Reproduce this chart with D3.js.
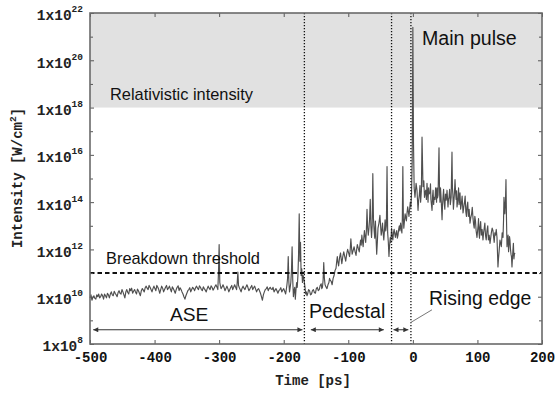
<!DOCTYPE html>
<html><head><meta charset="utf-8">
<script src="https://cdn.jsdelivr.net/npm/d3@7"></script>
<style>body{margin:0;background:#fff} svg{display:block}</style>
</head><body><svg id="c" width="557" height="394"></svg>
<script>
// ---------- data ----------
const xTicks = [-500, -400, -300, -200, -100, 0, 100, 200];
const yTickExponents = [8, 10, 12, 14, 16, 18, 20, 22];
const yMinorExponents = [9, 11, 13, 15, 17, 19, 21];
const regionBounds = [-168, -33, -3];          // ps, dotted separators
const breakdownThreshold = 1e11;               // W/cm^2
const relativisticIntensity = 1e18;            // W/cm^2
const arrowLevel = 4e8;
const regionArrows = [[-495, -171], [-158, -45], [-30, -7]];
const risingEdgeLeader = [[29.6, 2.8e9], [-4.4, 7.8e8]];

const aseTrace = [
[-500,8.9e9],[-498.5,1.2e10],[-497,7.1e9],[-495.5,9.5e9],[-494,1.1e10],[-492.5,8.5e9],[-491,7.9e9],[-489.5,1.2e10],
[-488,1.0e10],[-486.5,1.3e10],[-485,8.9e9],[-483.5,1.0e10],[-482,1.3e10],[-480.5,1.1e10],[-479,7.9e9],[-477.5,1.3e10],
[-476,1.1e10],[-474.5,9.0e9],[-473,1.4e10],[-471.5,1.2e10],[-470,8.9e9],[-468.5,1.3e10],[-467,1.6e10],[-465.5,1.2e10],
[-464,1.1e10],[-462.5,1.7e10],[-461,1.4e10],[-459.5,1.2e10],[-458,1.0e10],[-456.5,1.5e10],[-455,1.8e10],[-453.5,1.4e10],
[-452,1.3e10],[-450.5,2.0e10],[-449,1.6e10],[-447.5,1.2e10],[-446,8.9e9],[-444.5,1.6e10],[-443,2.0e10],[-441.5,1.5e10],
[-440,1.3e10],[-438.5,2.2e10],[-437,1.8e10],[-435.5,2.3e10],[-434,1.4e10],[-432.5,1.7e10],[-431,2.0e10],[-429.5,1.6e10],
[-428,1.3e10],[-426.5,2.1e10],[-425,1.8e10],[-423.5,1.4e10],[-422,1.1e10],[-420.5,1.8e10],[-419,2.2e10],[-417.5,1.9e10],
[-416,1.6e10],[-414.5,2.4e10],[-413,2.8e10],[-411.5,2.3e10],[-410,2.0e10],[-408.5,3.0e10],[-407,2.5e10],[-405.5,2.0e10],
[-404,1.6e10],[-402.5,2.2e10],[-401,2.8e10],[-399.5,2.2e10],[-398,1.8e10],[-396.5,3.0e10],[-395,2.5e10],[-393.5,2.0e10],
[-392,1.4e10],[-390.5,2.0e10],[-389,2.8e10],[-387.5,2.3e10],[-386,1.6e10],[-384.5,2.0e10],[-383,2.5e10],[-381.5,3.0e10],
[-380,2.0e10],[-378.5,2.3e10],[-377,2.8e10],[-375.5,2.1e10],[-374,1.6e10],[-372.5,2.6e10],[-371,2.2e10],[-369.5,1.8e10],
[-368,1.4e10],[-366.5,2.0e10],[-365,2.5e10],[-363.5,2.9e10],[-362,1.8e10],[-360.5,2.4e10],[-359,2.0e10],[-357.5,1.6e10],
[-356,1.3e10],[-354.5,1.0e10],[-353,7.9e9],[-351.5,1.1e10],[-350,1.4e10],[-348.5,1.8e10],[-347,2.0e10],[-345.5,2.4e10],
[-344,1.6e10],[-342.5,2.0e10],[-341,2.5e10],[-339.5,2.2e10],[-338,1.8e10],[-336.5,2.4e10],[-335,2.8e10],[-333.5,2.3e10],
[-332,2.0e10],[-330.5,2.9e10],[-329,2.5e10],[-327.5,2.0e10],[-326,1.8e10],[-324.5,2.6e10],[-323,2.2e10],[-321.5,1.9e10],
[-320,1.6e10],[-318.5,2.2e10],[-317,2.8e10],[-315.5,2.3e10],[-314,2.0e10],[-312.5,2.9e10],[-311,2.5e10],[-309.5,1.9e10],
[-308,2.2e10],[-306.5,2.7e10],[-305,3.2e10],[-303.5,2.6e10],[-302,2.0e10],[-301,1.1e11],[-300,1.6e12],[-299,4.0e10],
[-298,2.8e10],[-297,2.2e10],[-295.5,2.6e10],[-294,3.2e10],[-292.5,2.5e10],[-291,1.8e10],[-289.5,2.2e10],[-288,2.8e10],
[-286.5,2.2e10],[-285,1.6e10],[-283.5,2.0e10],[-282,2.5e10],[-280.5,3.0e10],[-279,2.0e10],[-277.5,2.5e10],[-276,3.2e10],
[-274.5,2.5e10],[-273,2.0e10],[-272,4.0e10],[-271,1.1e11],[-270,3.0e10],[-269,2.5e10],[-267.5,2.0e10],[-266,1.6e10],
[-264.5,2.3e10],[-263,2.8e10],[-261.5,2.3e10],[-260,2.0e10],[-258.5,2.6e10],[-257,3.2e10],[-255.5,2.5e10],[-254,1.8e10],
[-252.5,2.1e10],[-251,2.5e10],[-249.5,3.0e10],[-248,2.0e10],[-246.5,2.4e10],[-245,2.8e10],[-243.5,2.1e10],[-242,1.6e10],
[-240.5,2.0e10],[-239,2.2e10],[-237.5,1.8e10],[-236,1.4e10],[-234.5,1.0e10],[-233,7.1e9],[-231.5,1.2e10],[-230,1.6e10],
[-228.5,2.0e10],[-227,2.2e10],[-225.5,2.6e10],[-224,1.8e10],[-222.5,2.2e10],[-221,2.5e10],[-219.5,2.1e10],[-218,2.0e10],
[-216.5,2.5e10],[-215,1.6e10],[-213.5,1.9e10],[-212,2.2e10],[-210.5,1.8e10],[-209,1.4e10],[-207.5,1.8e10],[-206,2.0e10],
[-204.5,2.4e10],[-203,1.6e10],[-201.5,1.9e10],[-200,2.2e10],[-198.5,1.7e10],[-197,1.3e10],[-196,2.0e10],[-195,3.2e10],
[-194,6.0e10],[-193,5.0e11],[-192,4.0e10],[-191,1.6e10],[-190,2.5e10],[-189,4.0e10],[-188,1.2e11],[-187,1.3e12],
[-186,5.0e10],[-185,1.0e10],[-184,1.8e10],[-183,2.5e10],[-182,7.9e9],[-181,2.0e10],[-180,4.0e10],[-179,2.5e10],
[-178,7.9e10],[-177,6.3e11],[-176,3.2e13],[-175,3.2e11],[-174,2.0e12],[-173,7.9e10],[-172,1.5e11],[-171,4.0e10],
[-170,8.0e10],[-169,6.3e10]
];
const pedestalTrace = [
[-167,2.5e10],[-166,1.3e10],[-165,1.6e10],[-164,1.1e10],[-163,1.3e10],[-161.5,2.0e10],[-160,1.8e10],[-158.5,1.2e10],
[-157,1.3e10],[-155.5,1.8e10],[-154,2.0e10],[-152.5,1.5e10],[-151,1.4e10],[-149.5,2.2e10],[-148,2.5e10],[-146.5,1.8e10],
[-145,2.0e10],[-143.5,3.0e10],[-142,3.5e10],[-141,2.2e10],[-140,2.5e10],[-139,5.0e10],[-138,2.8e11],[-137,6.0e10],
[-136,3.2e10],[-134.5,2.6e10],[-133,2.2e10],[-131.5,3.2e10],[-130,4.0e10],[-129,6.0e10],[-128,5.0e10],[-126.5,4.5e10],
[-125,3.2e10],[-123.5,6.0e10],[-122,7.9e10],[-120.5,1.3e11],[-119,1.6e11],[-118,3.0e11],[-117,5.0e11],[-116,2.8e11],
[-115,2.0e11],[-113.5,4.5e11],[-112,7.1e11],[-111,4.0e11],[-110,2.5e11],[-108.5,5.0e11],[-107,7.9e11],[-105.5,5.0e11],
[-104,3.2e11],[-102.5,6.3e11],[-101,1.0e12],[-99.5,7.1e11],[-98,5.0e11],[-97,1.0e12],[-96,2.8e12],[-95,1.2e12],
[-94,6.3e11],[-92.5,9.0e11],[-91,1.3e12],[-89.5,8.0e11],[-88,5.6e11],[-87,1.0e12],[-86,1.6e12],[-84.5,1.1e12],
[-83,7.9e11],[-82,1.5e12],[-81,2.5e12],[-80,1.5e12],[-79,4.0e12],[-78,2.2e12],[-77,1.3e12],[-76,3.0e12],
[-75,6.3e12],[-74,3.5e12],[-73,2.0e12],[-72,6.0e12],[-71,5.0e13],[-70,8.0e12],[-69,4.0e12],[-68,7.9e12],
[-67,2.0e13],[-66,1.3e14],[-65,1.0e13],[-64,3.2e12],[-63,1.0e13],[-62,1.6e15],[-61,2.0e13],[-60,6.3e12],
[-59,3.0e12],[-58,1.6e13],[-57,3.0e12],[-56,6.3e11],[-55,2.0e12],[-54,7.9e12],[-52.5,1.3e13],[-51,2.8e13],
[-50,1.0e13],[-49,4.0e12],[-48,6.3e12],[-47,1.3e13],[-46,5.0e12],[-45,2.5e12],[-44,6.3e12],[-43,1.8e13],
[-42,6.0e12],[-41,1.0e13],[-40,3.2e15],[-39,5.0e12],[-38,2.0e12],[-37,5.0e11],[-36,1.5e12],[-35,3.2e12],
[-34,2.0e12],[-33,7.9e12],[-32,4.0e12],[-31,2.5e12],[-30,5.0e12],[-29,7.1e12],[-28,4.5e12],[-27,3.2e12],
[-26,5.0e12],[-25,6.3e12],[-24,3.0e12],[-23,4.0e12],[-22,7.0e12],[-21,1.0e13],[-20,6.0e12],[-19,1.3e13],
[-18,8.0e12],[-17,5.0e12],[-16.3,2.0e13],[-15.5,3.2e15],[-14.7,2.0e13],[-14,7.9e12],[-13,1.6e13],[-12,3.2e13],
[-11,2.2e13],[-10,1.6e13],[-9,3.5e13],[-8,6.3e13],[-7,4.0e13],[-6,2.5e13],[-5,5.0e13],[-4,1.0e14],
[-3,6.3e13],[-2,2.5e14],[-1,6.3e15]
];
const mainPulseTrace = [
[0,2.5e21],[1,3.2e16],[2,4.0e14],[3.3,1.6e14],[5,6.3e14],[6.4,3.2e14],[8,4.5e13],[9,1.2e14],[10,2.0e14],
[11,5.0e14],[12,1.0e14],[13.2,3.0e14],[14.2,5.6e16],[15.7,4.5e14],[17,8.0e14],[18,1.6e14],[19,2.5e14],[20,3.2e14],
[21,1.3e14],[21.9,6.3e14],[23.5,1.0e14],[24.3,4.0e14],[25,2.2e14],[26.6,2.5e14],[27.3,6.0e14],[28,1.3e14],
[29.7,4.5e13],[30.5,1.8e14],[31.3,3.2e14],[32.2,8.0e13],[33,1.6e14],[34.3,1.3e14],[35.2,4.0e14],[36,2.5e14],
[36.7,1.0e14],[37.4,4.0e14],[38.2,1.5e14],[39,2.0e14],[40.5,2.0e16],[41.3,3.0e14],[42,1.0e14],[42.8,4.0e14],
[43.5,2.0e14],[44.4,6.0e13],[45.2,1.8e13],[46,8.0e13],[46.7,1.6e14],[47.6,3.5e14],[48.5,1.0e14],[49.5,5.0e13],
[50.5,2.2e14],[51.7,1.2e14],[52.9,3.2e14],[53.6,1.6e14],[54.4,6.3e13],[55.2,1.3e14],[56,1.6e14],[57,3.5e14],
[58,7.9e13],[59.3,1.6e14],[60.6,1.3e16],[61.3,4.0e14],[62,2.0e14],[62.8,5.0e13],[63.5,1.0e14],[64.4,2.5e14],
[65.3,8.9e14],[66.2,2.5e14],[67,1.3e14],[67.7,3.0e14],[68.4,6.3e13],[69.2,1.0e14],[70,1.6e14],[70.8,4.0e14],
[71.5,7.9e13],[72.3,1.3e14],[73,2.5e14],[74,5.0e13],[75,7.9e13],[76.3,1.8e14],[77.7,3.5e13],[78.8,6.0e13],
[80,1.0e14],[81,1.8e14],[82,4.0e13],[83,2.5e13],[83.9,6.3e13],[85,1.0e14],[86,2.5e13],[87.2,5.0e13],
[88.5,1.3e13],[89.7,2.2e13],[91,3.2e13],[92,6.0e13],[93.2,2.0e13],[94,1.2e13],[95,7.9e12],[96,2.5e13],
[97,1.6e13],[98,6.0e12],[99.3,3.2e12],[100.2,6.0e12],[101,1.0e13],[101.7,2.0e13],[102.5,5.0e12],[103.2,3.0e12],
[104,8.9e12],[105,1.5e13],[106,4.0e12],[107.3,7.0e12],[108.6,2.5e12],[109.5,5.0e12],[110.5,7.9e12],[111.5,1.3e13],
[112.5,4.0e12],[113.6,2.5e12],[114.8,6.3e12],[116,1.0e13],[117,2.5e12],[118.2,4.0e12],[119.5,1.8e12],[120.5,3.0e12],
[121.5,5.0e12],[122.8,8.0e12],[124,6.3e12],[125,3.5e12],[126,2.0e12],[127,5.0e12],[128,4.0e12],[129.2,7.0e12],
[130.3,3.2e12],[131.8,1.8e11],[132.6,4.0e11],[133.5,7.9e11],[134.9,2.5e12],[136,1.8e12],[137,1.3e12],[138.3,5.0e12],
[139.6,3.2e12],[140.4,1.6e13],[141.1,1.6e14],[142.5,3.2e13],[143.4,1.0e14],[144.2,8.9e14],[145,2.0e13],[145.8,1.3e12],
[146.6,2.5e12],[147.5,4.0e12],[148.2,8.0e11],[149,1.6e12],[149.7,3.5e12],[150.4,2.5e12],[151.2,1.0e12],[152,6.3e11],
[152.7,5.0e11],[153.5,1.8e11],[154.3,4.5e11],[155,9.5e11],[155.7,1.8e12],[156.5,4.0e11],[157.2,6.0e11],[158,7.1e11]
];

// ---------- chart ----------
const svg = d3.select('#c');
const x = d3.scaleLinear().domain([-500, 200]).range([90, 542]);
const y = d3.scaleLog().domain([1e8, 1e22]).range([344, 13]);
const mono = "'Liberation Mono','DejaVu Sans Mono',monospace";
const sans = "'Liberation Sans',Arial,Helvetica,sans-serif";

// relativistic band
svg.append('rect')
  .attr('x', x(-500)).attr('y', y(1e22))
  .attr('width', x(200) - x(-500)).attr('height', y(relativisticIntensity) - y(1e22))
  .attr('fill', '#e1e1e1');

// trace
const trace = aseTrace.concat(pedestalTrace, mainPulseTrace);
svg.append('path').datum(trace)
  .attr('fill', 'none').attr('stroke', '#4f4f4f').attr('stroke-width', 1.15)
  .attr('stroke-linejoin', 'round')
  .attr('d', d3.line().x(d => x(d[0])).y(d => y(d[1])));

// threshold dashed line
svg.append('line')
  .attr('x1', x(-500)).attr('x2', x(200))
  .attr('y1', y(breakdownThreshold)).attr('y2', y(breakdownThreshold))
  .attr('stroke', '#111').attr('stroke-width', 2).attr('stroke-dasharray', '4.5,3');

// dotted separators
svg.selectAll('.sep').data(regionBounds).enter().append('line')
  .attr('x1', d => x(d)).attr('x2', d => x(d))
  .attr('y1', y(1e22)).attr('y2', y(1e8))
  .attr('stroke', '#111').attr('stroke-width', 1.3).attr('stroke-dasharray', '1.3,1.7');

// arrows
const defs = svg.append('defs');
['s', 'e'].forEach(k => {
  defs.append('marker').attr('id', 'arr' + k)
    .attr('viewBox', '0 0 10 10').attr('refX', k === 'e' ? 10 : 0).attr('refY', 5)
    .attr('markerWidth', 6).attr('markerHeight', 5).attr('markerUnits', 'userSpaceOnUse')
    .attr('orient', 'auto')
    .append('path').attr('d', k === 'e' ? 'M0,0L10,5L0,10Z' : 'M10,0L0,5L10,10Z').attr('fill', '#333');
});
svg.selectAll('.arr').data(regionArrows).enter().append('line')
  .attr('x1', d => x(d[0])).attr('x2', d => x(d[1]))
  .attr('y1', y(arrowLevel)).attr('y2', y(arrowLevel))
  .attr('stroke', '#333').attr('stroke-width', 1)
  .attr('marker-start', 'url(#arrs)').attr('marker-end', 'url(#arre)');
svg.append('line')
  .attr('x1', x(risingEdgeLeader[0][0])).attr('y1', y(risingEdgeLeader[0][1]))
  .attr('x2', x(risingEdgeLeader[1][0])).attr('y2', y(risingEdgeLeader[1][1]))
  .attr('stroke', '#777').attr('stroke-width', 1);

// axes
const tickCol = '#555';
const gx = svg.append('g').attr('transform', `translate(0,${y(1e8)})`)
  .call(d3.axisBottom(x).tickValues(xTicks).tickSizeInner(-4).tickSizeOuter(0).tickPadding(8).tickFormat(d => String(d)));
gx.selectAll('text').attr('font-family', mono).attr('font-size', 14).attr('font-weight', 'bold').attr('fill', '#111');
svg.append('g').attr('transform', `translate(0,${y(1e22)})`)
  .call(d3.axisTop(x).tickValues(xTicks).tickSizeInner(-4).tickSizeOuter(0).tickFormat(''));

const gy = svg.append('g').attr('transform', `translate(${x(-500)},0)`)
  .call(d3.axisLeft(y).tickValues(yTickExponents.map(e => Math.pow(10, e))).tickSizeInner(-4).tickSizeOuter(0).tickPadding(7));
gy.selectAll('.tick text').each(function (d) {
  const e = Math.round(Math.log10(d));
  const t = d3.select(this).text(null).attr('dy', '0.48em')
    .attr('font-family', mono).attr('font-size', 14.5).attr('font-weight', 'bold').attr('fill', '#222');
  t.append('tspan').text('1x10');
  t.append('tspan').attr('dy', -8).attr('font-size', 9.5).text(e);
});
svg.append('g').attr('transform', `translate(${x(-500)},0)`)
  .call(d3.axisLeft(y).tickValues(yMinorExponents.map(e => Math.pow(10, e))).tickSizeInner(-3).tickSizeOuter(0).tickFormat(''));
svg.append('g').attr('transform', `translate(${x(200)},0)`)
  .call(d3.axisRight(y).tickValues(yTickExponents.map(e => Math.pow(10, e))).tickSizeInner(-4).tickSizeOuter(0).tickFormat(''));
svg.append('g').attr('transform', `translate(${x(200)},0)`)
  .call(d3.axisRight(y).tickValues(yMinorExponents.map(e => Math.pow(10, e))).tickSizeInner(-3).tickSizeOuter(0).tickFormat(''));
svg.selectAll('.domain').remove();
svg.selectAll('.tick line').attr('stroke', tickCol).attr('stroke-width', 1);

// frame
svg.append('rect').attr('x', x(-500)).attr('y', y(1e22))
  .attr('width', x(200) - x(-500)).attr('height', y(1e8) - y(1e22))
  .attr('fill', 'none').attr('stroke', '#6a6a6a').attr('stroke-width', 1.6);

// axis titles
svg.append('text').attr('x', 313).attr('y', 385).attr('text-anchor', 'middle')
  .attr('font-family', mono).attr('font-size', 14).attr('font-weight', 'bold').attr('fill', '#222')
  .text('Time [ps]');
const yl = svg.append('text').attr('transform', 'translate(22,178) rotate(-90)').attr('text-anchor', 'middle')
  .attr('font-family', mono).attr('font-size', 14).attr('font-weight', 'bold').attr('fill', '#222');
yl.append('tspan').text('Intensity [W/cm');
yl.append('tspan').attr('dy', -6).attr('font-size', 9.5).text('2');
yl.append('tspan').attr('dy', 6).text(']');

// annotations
const ann = [
  ['Relativistic intensity', 110, 100, 16.4],
  ['Main pulse', 422, 45, 19.6],
  ['Breakdown threshold', 106, 264, 16.4],
  ['ASE', 170, 321, 19.2],
  ['Pedestal', 309, 318, 19.6],
  ['Rising edge', 429, 305, 19.4]
];
svg.selectAll('.ann').data(ann).enter().append('text')
  .attr('x', d => d[1]).attr('y', d => d[2]).attr('font-size', d => d[3])
  .attr('font-family', sans).attr('fill', '#111').text(d => d[0]);
</script></body></html>
